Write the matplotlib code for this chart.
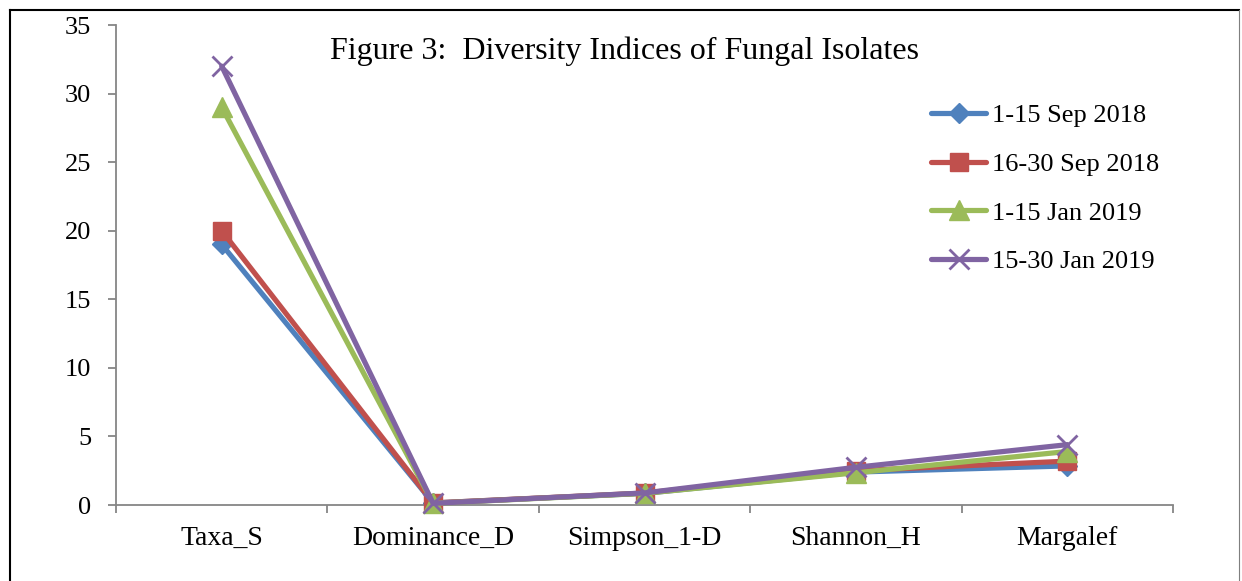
import matplotlib
matplotlib.use("Agg")
import matplotlib.pyplot as plt
from matplotlib.lines import Line2D
import numpy as np

categories = ["Taxa_S", "Dominance_D", "Simpson_1-D", "Shannon_H", "Margalef"]
series_names = ["1-15 Sep 2018", "16-30 Sep 2018", "1-15 Jan 2019", "15-30 Jan 2019"]
sep_1_15 = [19, 0.15, 0.85, 2.4, 2.85]
sep_16_30 = [20, 0.15, 0.87, 2.5, 3.2]
jan_1_15 = [29, 0.12, 0.85, 2.35, 3.9]
jan_15_30 = [32, 0.12, 0.88, 2.75, 4.4]
yticks = [0, 5, 10, 15, 20, 25, 30, 35]

series = [sep_1_15, sep_16_30, jan_1_15, jan_15_30]
colors = ["#4F81BD", "#C0504D", "#9BBB59", "#8064A2"]
markers = ["D", "s", "^", "x"]
msizes = [10, 13, 14, 14]

plt.rcParams["font.family"] = ["Liberation Serif", "DejaVu Serif"]

W, H = 1242, 581
fig = plt.figure(figsize=(W / 100, H / 100), dpi=100)
ax = fig.add_axes([116 / W, (H - 505) / H, (1173 - 116) / W, (505 - 25) / H])

x = np.arange(len(categories))
for vals, name, c, m, ms in zip(series, series_names, colors, markers, msizes):
    if m == "x":
        ax.plot(x, vals, color=c, lw=3.75, marker=m, ms=ms, mew=2, label=name,
                solid_capstyle="round", clip_on=False, zorder=3)
    else:
        ax.plot(x, vals, color=c, lw=3.75, marker=m, ms=ms, mfc=c, mec=c, mew=1,
                label=name, solid_capstyle="round", clip_on=False, zorder=3)

ax.set_xlim(-0.5, len(categories) - 0.5)
ax.set_ylim(0, 35)
ax.set_yticks(yticks)
ax.set_yticklabels([str(v) for v in yticks])

ax.set_xticks(np.arange(-0.5, len(categories), 1.0))
ax.set_xticklabels([])
ax.set_xticks(x, minor=True)
ax.set_xticklabels(categories, minor=True)
ax.tick_params(axis="x", which="major", direction="out", length=6, width=1.3, color="#868686")
ax.tick_params(axis="x", which="minor", length=0, pad=15, labelsize=20)
ax.tick_params(axis="y", direction="out", length=6, width=1.3, color="#868686", pad=12, labelsize=19)

for s in ["top", "right"]:
    ax.spines[s].set_visible(False)
for s in ["left", "bottom"]:
    ax.spines[s].set_color("#868686")
    ax.spines[s].set_linewidth(1.3)

leg = ax.legend(loc="upper left", bbox_to_anchor=(931 / W, (H - 104) / H),
                bbox_transform=fig.transFigure, frameon=False, fontsize=19,
                handlelength=2.1, handletextpad=0.2, labelspacing=0.95,
                borderaxespad=0, borderpad=0)

fig.text(625 / W, (H - 59) / H, "Figure 3:  Diversity Indices of Fungal Isolates",
         ha="center", va="baseline", fontsize=23)

# outer frame
fig.add_artist(Line2D([10 / W, 10 / W], [0, (H - 10) / H], color="black", lw=1.5, transform=fig.transFigure))
fig.add_artist(Line2D([10 / W, 1239 / W], [(H - 10) / H, (H - 10) / H], color="black", lw=1.5, transform=fig.transFigure))
fig.add_artist(Line2D([1239 / W, 1239 / W], [0, (H - 10) / H], color="#7f7f7f", lw=0.8, transform=fig.transFigure))

fig.savefig("out.png", dpi=100)
